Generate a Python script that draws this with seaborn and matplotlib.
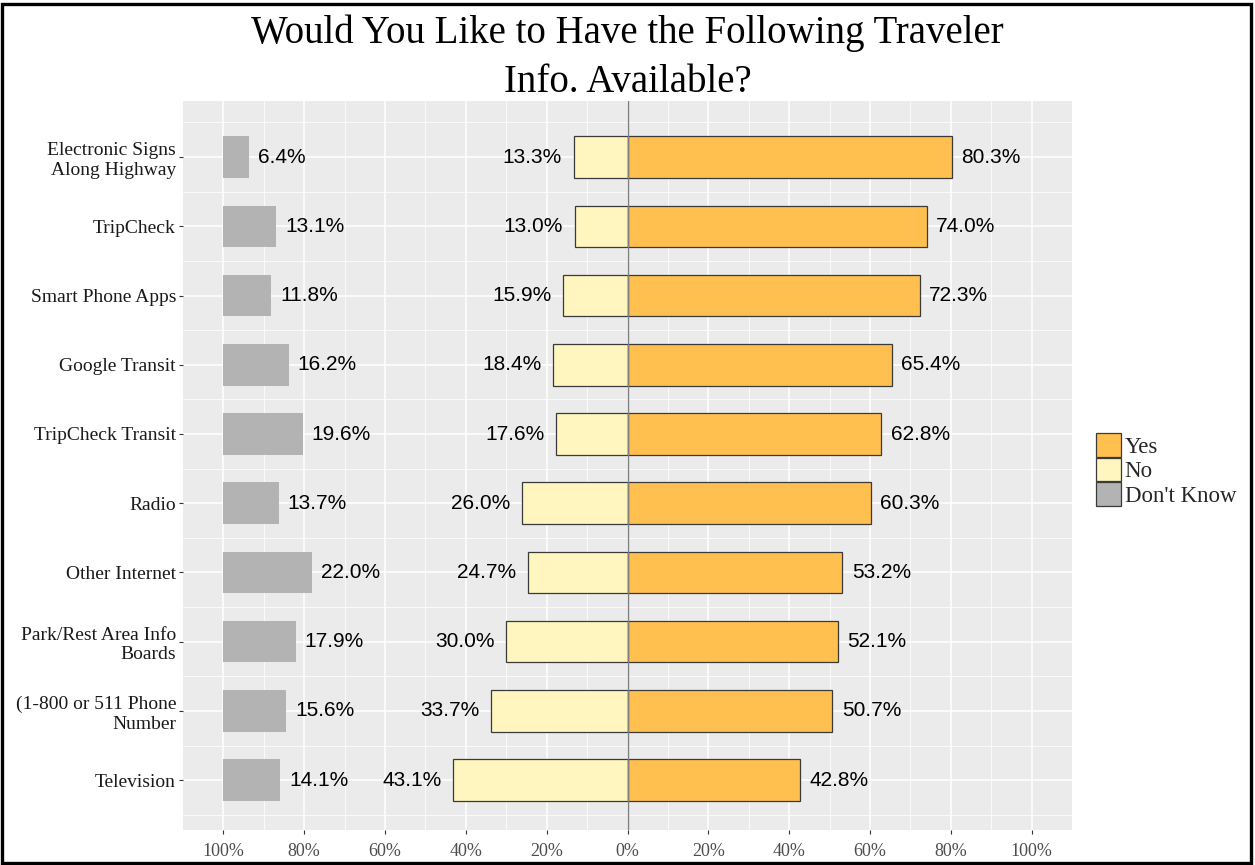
import matplotlib
matplotlib.use("Agg")
import matplotlib.pyplot as plt
from matplotlib.patches import Patch, Rectangle
import pandas as pd
import seaborn as sns

# Survey responses (percent of respondents)
categories = [
    "Electronic Signs\nAlong Highway",
    "TripCheck",
    "Smart Phone Apps",
    "Google Transit",
    "TripCheck Transit",
    "Radio",
    "Other Internet",
    "Park/Rest Area Info\nBoards",
    "(1-800 or 511 Phone\nNumber",
    "Television",
]
yes = [80.3, 74.0, 72.3, 65.4, 62.8, 60.3, 53.2, 52.1, 50.7, 42.8]
no = [13.3, 13.0, 15.9, 18.4, 17.6, 26.0, 24.7, 30.0, 33.7, 43.1]
dont_know = [6.4, 13.1, 11.8, 16.2, 19.6, 13.7, 22.0, 17.9, 15.6, 14.1]

responses = ["Yes", "No", "Don't Know"]
x_ticks = [-100, -80, -60, -40, -20, 0, 20, 40, 60, 80, 100]
x_tick_labels = [f"{abs(t)}%" for t in x_ticks]
title = "Would You Like to Have the Following Traveler\nInfo. Available?"

df = pd.DataFrame({"item": categories, "Yes": yes, "No": no, "Don't Know": dont_know})

palette = {"Yes": "#FFC04F", "No": "#FFF5BE", "Don't Know": "#B3B3B3"}
edge = "#3A3A3A"
serif = "Liberation Serif"
sans = "Liberation Sans"

sns.set_theme(style="darkgrid", rc={
    "axes.facecolor": "#EBEBEB",
    "grid.color": "white",
    "axes.edgecolor": "#EBEBEB",
    "axes.linewidth": 0,
})

fig = plt.figure(figsize=(12.55, 8.65), dpi=100)
ax = fig.add_axes([183 / 1255, 1 - 830 / 865, (1072 - 183) / 1255, (830 - 101) / 865])

bar_w = 0.6
# Don't Know bars anchored at the left end of the scale
sns.barplot(data=df, x="Don't Know", y="item", orient="h", color=palette["Don't Know"],
            saturation=1, width=bar_w, left=-100, linewidth=0, errorbar=None,
            ax=ax, zorder=2)
# No bars extend left of zero
sns.barplot(x=-df["No"], y=df["item"], orient="h", color=palette["No"], saturation=1,
            width=bar_w, edgecolor=edge, linewidth=0.9, errorbar=None, ax=ax, zorder=2)
# Yes bars extend right of zero
sns.barplot(data=df, x="Yes", y="item", orient="h", color=palette["Yes"], saturation=1,
            width=bar_w, edgecolor=edge, linewidth=0.9, errorbar=None, ax=ax, zorder=2)

ax.axvline(0, color="#7F7F7F", lw=1.0, zorder=3)

# Value labels
lab_kw = dict(va="center", fontsize=15, family=sans, color="black", zorder=4)
for i, (y_, n_, d_) in enumerate(zip(yes, no, dont_know)):
    ax.text(y_ + 2.3, i, f"{y_:.1f}%", ha="left", **lab_kw)
    ax.text(-n_ - 2.9, i, f"{n_:.1f}%", ha="right", **lab_kw)
    ax.text(-100 + d_ + 2.2, i, f"{d_:.1f}%", ha="left", **lab_kw)

# Axes, grid and ticks
ax.set_xlim(-110, 110)
ax.set_ylim(9.72, -0.81)
ax.set_xticks(x_ticks)
ax.set_xticklabels(x_tick_labels, family=serif, fontsize=13, color="#4D4D4D")
ax.set_xticks([-90, -70, -50, -30, -10, 10, 30, 50, 70, 90], minor=True)
ax.set_yticks(range(len(categories)))
ax.set_yticklabels(categories, family=serif, fontsize=14, color="#1A1A1A", ha="right")
ax.set_yticks([i + 0.5 for i in range(-1, len(categories))], minor=True)
ax.grid(which="major", color="white", lw=1.1)
ax.grid(which="minor", color="white", lw=0.55)
ax.tick_params(which="major", length=3, width=0.8, color="#333333", pad=2,
               left=True, bottom=True)
ax.tick_params(axis="x", which="major", pad=6)
ax.tick_params(which="minor", length=0)
ax.set_axisbelow(True)
ax.set_xlabel("")
ax.set_ylabel("")
for s in ax.spines.values():
    s.set_visible(False)

fig.text((183 + 1072) / 2 / 1255, 1 - 15 / 865, title, ha="center", va="top",
         family=serif, fontsize=28, color="black", linespacing=1.42)

handles = [Patch(facecolor=palette[r], edgecolor=edge, linewidth=0.9) for r in responses]
leg = fig.legend(handles, responses, loc="center left",
                 bbox_to_anchor=(1096 / 1255, 1 - 470 / 865), frameon=False,
                 prop={"family": serif, "size": 16.5}, handlelength=1.1,
                 handleheight=1.2, handletextpad=0.15, labelspacing=0.0,
                 borderpad=0, borderaxespad=0)

# Outer frame around the whole figure
fig.patches.append(Rectangle((2 / 1255, 2.5 / 865), 1249 / 1255, 859 / 865,
                             transform=fig.transFigure, fill=False,
                             edgecolor="black", linewidth=2.4))

fig.savefig("out.png", dpi=100)
